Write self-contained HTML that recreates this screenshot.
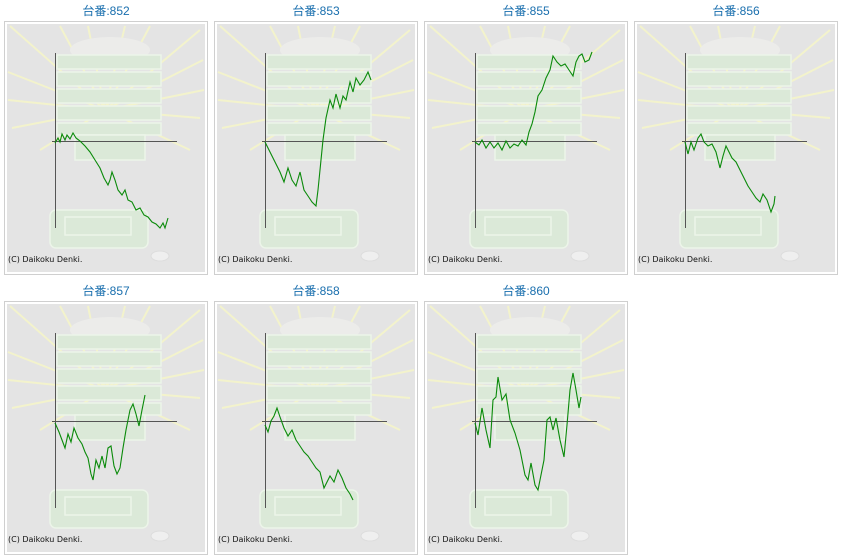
<!DOCTYPE html>
<html><head><meta charset="utf-8"><style>
body{margin:0;background:#fff;width:842px;height:558px;overflow:hidden}
svg{display:block}
.t{font-family:"Liberation Sans","Noto Sans CJK JP",sans-serif;font-size:12px;fill:#1a6fae;text-anchor:middle}
.c{font-family:"DejaVu Sans",sans-serif;font-size:8px;fill:#111}
.s{fill:none;stroke:#0a8a0a;stroke-width:1.1}
</style></head><body>
<svg width="842" height="558" viewBox="0 0 842 558" xmlns="http://www.w3.org/2000/svg">
<defs>
<g id="bg">
<rect x="4.5" y="21.5" width="203" height="253" fill="#fff" stroke="#cfcfcf"/>
<rect x="7" y="24" width="198" height="248" fill="#e4e4e4"/>
<g stroke="#f3f3cc" stroke-width="2">
<line x1="105" y1="110" x2="10" y2="26"/><line x1="105" y1="110" x2="8" y2="72"/><line x1="105" y1="110" x2="8" y2="100"/>
<line x1="105" y1="110" x2="12" y2="128"/><line x1="105" y1="110" x2="40" y2="150"/><line x1="105" y1="110" x2="200" y2="30"/>
<line x1="105" y1="110" x2="203" y2="60"/><line x1="105" y1="110" x2="204" y2="90"/><line x1="105" y1="110" x2="200" y2="118"/>
<line x1="105" y1="110" x2="190" y2="150"/><line x1="105" y1="110" x2="60" y2="26"/><line x1="105" y1="110" x2="150" y2="26"/>
<line x1="105" y1="110" x2="88" y2="26"/><line x1="105" y1="110" x2="125" y2="26"/>
</g>
<ellipse cx="110" cy="50" rx="40" ry="13" fill="#ececea"/>
<g fill="#dbe9d8" stroke="#ecf5e9" stroke-width="1.5">
<rect x="57" y="55" width="104" height="14"/><rect x="57" y="72" width="104" height="14"/>
<rect x="57" y="89" width="104" height="14"/><rect x="57" y="106" width="104" height="14"/>
<rect x="57" y="123" width="104" height="12"/><rect x="75" y="135" width="70" height="25"/>
<rect x="50" y="210" width="98" height="38" rx="6"/><rect x="65" y="217" width="66" height="18" fill="none"/>
</g>
<ellipse cx="160" cy="256" rx="9" ry="5" fill="#efefef" stroke="#ddd"/>
<line x1="55.5" y1="53" x2="55.5" y2="228" stroke="#555"/>
<line x1="52" y1="141.5" x2="177" y2="141.5" stroke="#555"/>
<text x="8" y="262" class="c">(C) Daikoku Denki.</text>
</g>
</defs>
<use href="#bg"/><use href="#bg" x="210"/><use href="#bg" x="420"/><use href="#bg" x="630"/>
<use href="#bg" y="280"/><use href="#bg" x="210" y="280"/><use href="#bg" x="420" y="280"/>
<text class="t" x="106" y="15">台番:852</text><text class="t" x="316" y="15">台番:853</text>
<text class="t" x="526" y="15">台番:855</text><text class="t" x="736" y="15">台番:856</text>
<text class="t" x="106" y="295">台番:857</text><text class="t" x="316" y="295">台番:858</text>
<text class="t" x="526" y="295">台番:860</text>
<polyline class="s" points="55,143 58,138 60,142 62,134 65,140 67,135 70,139 73,133 76,138 80,141 85,146 90,152 95,160 100,168 104,178 108,185 110,180 112,172 115,180 118,190 122,195 125,190 128,200 132,202 136,210 140,208 144,215 148,217 152,222 156,224 160,228 163,223 165,228 168,218"/>
<polyline class="s" points="265,142 270,152 275,162 280,172 284,182 288,168 292,180 296,186 300,172 304,190 308,196 312,202 316,206 318,190 320,170 323,140 326,118 330,100 333,108 336,94 340,108 343,96 346,100 350,82 353,92 356,78 360,85 364,80 368,72 371,80"/>
<polyline class="s" points="475,142 479,145 482,140 486,148 490,142 494,148 498,143 502,150 506,141 510,148 514,144 518,146 522,140 526,145 529,132 532,124 535,112 538,96 542,90 546,78 550,70 553,56 557,62 561,66 565,64 569,70 573,76 576,62 579,56 582,54 585,62 589,60 592,52"/>
<polyline class="s" points="685,142 688,154 691,142 694,150 698,138 701,134 704,142 708,146 712,144 716,152 720,168 723,156 726,146 729,152 732,158 736,162 740,170 744,178 748,186 752,192 756,198 760,202 763,194 767,200 771,212 774,204 775,196"/>
<polyline class="s" points="55,423 59,432 62,440 65,448 68,434 71,442 74,428 78,438 82,444 85,452 88,458 91,474 93,480 96,460 99,468 102,456 105,468 108,448 111,446 114,466 117,474 120,468 123,448 126,430 130,410 133,404 136,414 139,426 142,410 145,395"/>
<polyline class="s" points="265,425 268,432 271,421 274,416 277,408 280,417 284,428 288,436 292,430 296,440 300,446 304,452 308,456 312,462 316,468 320,472 324,488 327,482 330,476 334,482 338,470 342,478 346,488 350,494 353,500"/>
<polyline class="s" points="475,423 478,435 482,408 486,430 490,448 493,400 496,397 498,377 502,400 506,394 510,420 515,433 520,450 525,475 528,480 531,463 535,485 538,490 541,475 544,460 547,420 550,417 553,430 556,418 560,440 564,457 567,425 570,390 573,373 576,390 579,408 581,397"/>
</svg>
</body></html>
